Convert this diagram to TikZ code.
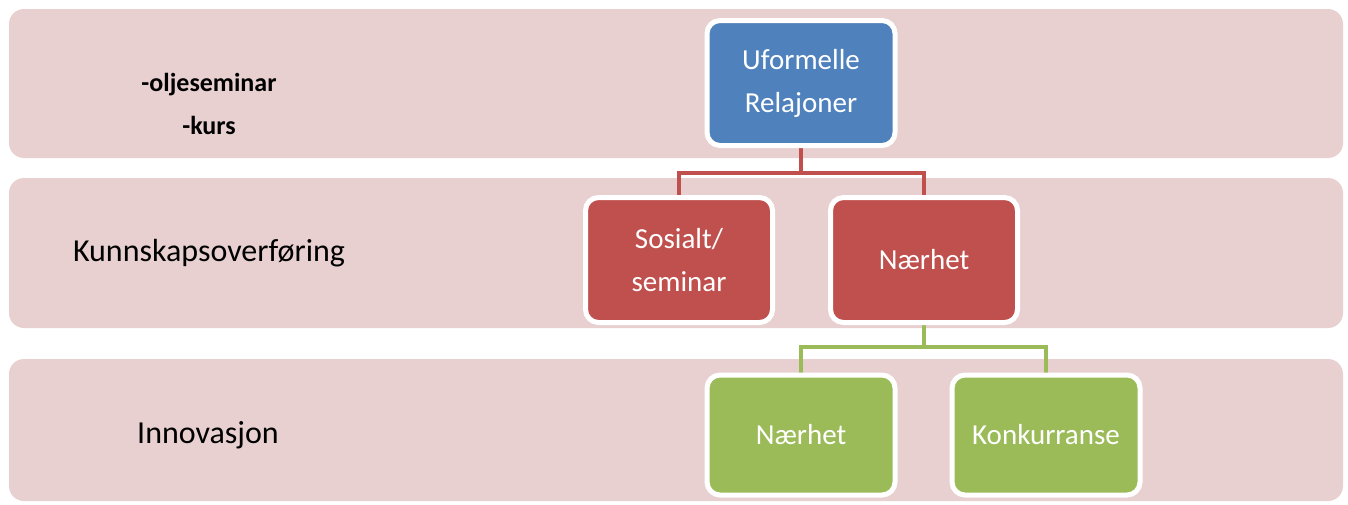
\documentclass[tikz,border=0pt]{standalone}
\usepackage{fontspec}
\setmainfont{Carlito}
\pgfdeclarelayer{bands}
\pgfdeclarelayer{links}
\pgfsetlayers{bands,links,main}
\begin{document}
\begin{tikzpicture}[x=1pt,y=-1pt,
  band/.style={fill=bandpink, draw=none, rounded corners=15pt},
  box/.style={draw=white, line width=5pt, rounded corners=13pt, text=white,
    font=\fontsize{29}{43}\selectfont, align=center, inner sep=0pt},
  bluebox/.style={box, fill=boxblue, minimum width=188pt, minimum height=125pt},
  redbox/.style={box, fill=boxred, minimum width=187pt, minimum height=125pt},
  greenbox/.style={box, fill=boxgreen, minimum width=188pt, minimum height=120pt},
  redline/.style={draw=boxred, line width=4pt},
  greenline/.style={draw=boxgreen, line width=4pt},
  rowlabel/.style={font=\fontsize{32}{36}\selectfont, text=black, inner sep=0pt},
  smalllabel/.style={font=\bfseries\fontsize{26}{43}\selectfont, text=black, align=center, inner sep=0pt}]
\definecolor{bandpink}{HTML}{E8D0D1}
\definecolor{boxblue}{HTML}{4F81BD}
\definecolor{boxred}{HTML}{C0504D}
\definecolor{boxgreen}{HTML}{9BBB59}
\useasboundingbox (0,0) rectangle (1348,504);
\begin{pgfonlayer}{bands}
\fill[white] (0,0) rectangle (1348,504);
\path[band] (9,9) rectangle (1343,158);
\path[band] (9,178) rectangle (1343,328);
\path[band] (9,359) rectangle (1343,501);
\end{pgfonlayer}
% row labels
\node[smalllabel] (ol) at (209,104) {-oljeseminar\\-kurs};
\node[rowlabel] (kv) at (209,253) {Kunnskapsoverføring};
\node[rowlabel] (inn) at (208,435) {Innovasjon};
% connector junctions
\coordinate (rj) at (801,173);
\coordinate (gj) at (924,347);
% boxes
\node[bluebox] (u) at (801,83) {Uformelle\\Relajoner};
\node[redbox] (s) at (679,260) {Sosialt/\\seminar};
\node[redbox] (n) at (924,260) {Nærhet};
\node[greenbox] (g1) at (801,435) {Nærhet};
\node[greenbox] (g2) at (1046,435) {Konkurranse};
% tree connectors, drawn below the boxes
\begin{pgfonlayer}{links}
\draw[redline] (u.south) -- (rj) -| (s.north);
\draw[redline] (rj) -| (n.north);
\draw[greenline] (n.south) -- (gj) -| (g1.north);
\draw[greenline] (gj) -| (g2.north);
\end{pgfonlayer}
\end{tikzpicture}
\end{document}
